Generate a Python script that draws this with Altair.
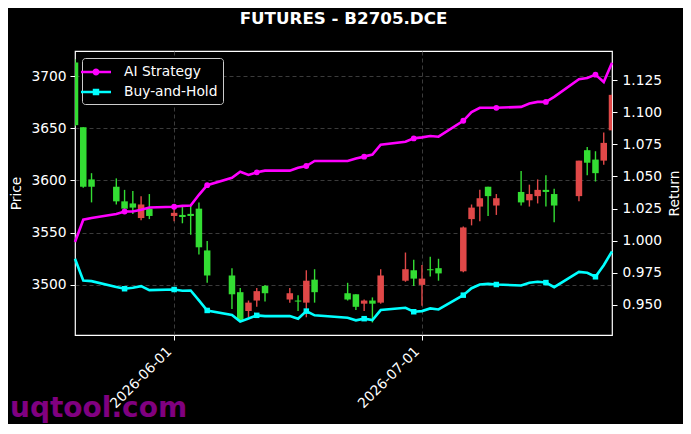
import altair as alt
import pandas as pd

# ---------------- data ----------------
dates = [
    "2026-05-20", "2026-05-21", "2026-05-22", "2026-05-25", "2026-05-26", "2026-05-27", "2026-05-28", "2026-05-29",
    "2026-06-01", "2026-06-02", "2026-06-03", "2026-06-04", "2026-06-05",
    "2026-06-08", "2026-06-09", "2026-06-10", "2026-06-11", "2026-06-12",
    "2026-06-15", "2026-06-16", "2026-06-17", "2026-06-18",
    "2026-06-22", "2026-06-23", "2026-06-24", "2026-06-25", "2026-06-26",
    "2026-06-29", "2026-06-30", "2026-07-01", "2026-07-02", "2026-07-03",
    "2026-07-06", "2026-07-07", "2026-07-08", "2026-07-09", "2026-07-10",
    "2026-07-13", "2026-07-14", "2026-07-15", "2026-07-16", "2026-07-17",
    "2026-07-20", "2026-07-21", "2026-07-22", "2026-07-23", "2026-07-24",
]
opens = [3713, 3651, 3601, 3594, 3580, 3578, 3564, 3573,
         3566, 3567, 3568, 3573, 3533,
         3509, 3493, 3475, 3485, 3499,
         3486, 3485, 3483, 3505,
         3492, 3491, 3482, 3485, 3483,
         3504, 3514, 3500, 3515, 3516,
         3513, 3563, 3575, 3594, 3576,
         3589, 3581, 3585, 3591, 3587,
         3585, 3629, 3620, 3619, 3648]
highs = [3716, 3651, 3607, 3602, 3591, 3590, 3585, 3587,
         3574, 3575, 3577, 3579, 3542,
         3516, 3497, 3485, 3497, 3500,
         3497, 3490, 3514, 3515,
         3502, 3491, 3486, 3488, 3515,
         3531, 3524, 3519, 3527, 3525,
         3556, 3577, 3591, 3594, 3587,
         3609, 3596, 3601, 3605, 3592,
         3619, 3632, 3628, 3646, 3682]
lows = [3652, 3593, 3579, 3577, 3570, 3568, 3562, 3563,
        3561, 3559, 3548, 3529, 3502,
        3477, 3466, 3469, 3479, 3484,
        3483, 3475, 3469, 3483,
        3485, 3476, 3475, 3464, 3482,
        3503, 3499, 3480, 3508, 3504,
        3512, 3557, 3561, 3566, 3567,
        3576, 3575, 3578, 3575, 3560,
        3580, 3605, 3599, 3615, 3648]
closes = [3653, 3594, 3594, 3580, 3573, 3574, 3577, 3566,
          3569, 3565, 3566, 3536, 3509,
          3491, 3466, 3483, 3494, 3492,
          3492, 3484, 3504, 3493,
          3486, 3479, 3485, 3482, 3509,
          3515, 3506, 3506, 3514, 3511,
          3555, 3574, 3583, 3585, 3583,
          3579, 3587, 3591, 3589, 3576,
          3619, 3617, 3607, 3636, 3682]
ai_strategy = [0.999, 1.0163, 1.0176, 1.0207, 1.0227, 1.0227, 1.0240, 1.0258,
               1.0264, 1.0271, 1.0274, 1.0357, 1.0432,
               1.0490, 1.0537, 1.0512, 1.0532, 1.0545,
               1.0545, 1.0568, 1.0581, 1.0620,
               1.0620, 1.0640, 1.0654, 1.0670, 1.0747,
               1.0770, 1.0796, 1.0804, 1.0814, 1.0809,
               1.0933, 1.1000, 1.1034, 1.1034, 1.1034,
               1.1041, 1.1067, 1.1080, 1.1080, 1.1119,
               1.1256, 1.1266, 1.1292, 1.1235, 1.1385]
buy_hold = [0.9860, 0.9690, 0.9685, 0.9640, 0.9626, 0.9633, 0.9646, 0.9615,
            0.9620, 0.9610, 0.9612, 0.9535, 0.9457,
            0.9421, 0.9370, 0.9395, 0.9419, 0.9413,
            0.9413, 0.9393, 0.9452, 0.9419,
            0.9400, 0.9380, 0.9393, 0.9382, 0.9460,
            0.9478, 0.9447, 0.9452, 0.9473, 0.9465,
            0.9576, 0.9630, 0.9659, 0.9664, 0.9659,
            0.9651, 0.9672, 0.9680, 0.9674, 0.9638,
            0.9757, 0.9750, 0.9719, 0.9809, 0.9917]

series_names = ["AI Strategy", "Buy-and-Hold"]
series_colors = ["#ff00ff", "#00ffff"]
price_ticks = [3500, 3550, 3600, 3650, 3700]
return_ticks = [0.950, 0.975, 1.000, 1.025, 1.050, 1.075, 1.100, 1.125]
price_domain = [3452, 3724]
return_domain = [0.9266, 1.1476]
title_text = "FUTURES - B2705.DCE"
watermark_text = "uqtool.com"

UP_COLOR = "#e04848"
DOWN_COLOR = "#33dd33"
FONT = "DejaVu Sans"
FS = 13.8
MARK_EVERY = 4

# ---------------- tables ----------------
candles = pd.DataFrame({"date": dates, "open": opens, "high": highs, "low": lows, "close": closes})
candles["col"] = [UP_COLOR if c >= o else DOWN_COLOR for o, c in zip(opens, closes)]

n = len(dates)
rets = pd.DataFrame({
    "date": dates * 2,
    "value": ai_strategy + buy_hold,
    "series": [series_names[0]] * n + [series_names[1]] * n,
    "hex": [series_colors[0]] * n + [series_colors[1]] * n,
    "idx": list(range(n)) * 2,
})
legend_df = pd.DataFrame({"series": series_names})
wm_df = pd.DataFrame({"t": [watermark_text]})

# ---------------- shared encodings ----------------
x_enc = alt.X(
    "date:T",
    scale=alt.Scale(
        type="utc",
        domain=[alt.DateTime(year=2026, month=5, date=20, utc=True),
                alt.DateTime(year=2026, month=7, date=24, utc=True)],
        nice=False, padding=0,
    ),
    axis=alt.Axis(
        title=None,
        values=[alt.DateTime(year=2026, month=6, date=1, utc=True),
                alt.DateTime(year=2026, month=7, date=1, utc=True)],
        labelExpr="utcFormat(datum.value, '%Y-%m-%d')",
        labelAngle=315, labelAlign="right", labelBaseline="middle",
        labelPadding=9, labelOffset=-5, tickSize=5, grid=True,
    ),
)
price_scale = alt.Scale(domain=price_domain, nice=False, zero=False)
price_axis = alt.Axis(title="Price", orient="left", values=price_ticks, grid=True,
                      tickSize=5, labelPadding=4, titlePadding=7, format="d")
ret_scale = alt.Scale(domain=return_domain, nice=False, zero=False)
ret_axis = alt.Axis(title="Return", orient="right", values=return_ticks, grid=False,
                    tickSize=5, labelPadding=5, titlePadding=6, format=".3f",
                    titleAngle=270, titleBaseline="top")

# ---------------- candles ----------------
wicks = alt.Chart(candles).mark_rule(strokeWidth=1.4, clip=True).encode(
    x=x_enc,
    y=alt.Y("low:Q", scale=price_scale, axis=price_axis),
    y2="high:Q",
    color=alt.Color("col:N", scale=None),
)
bodies = alt.Chart(candles).mark_bar(size=6.5, clip=True).encode(
    x=x_enc,
    y=alt.Y("open:Q", scale=price_scale, axis=price_axis),
    y2="close:Q",
    color=alt.Color("col:N", scale=None),
)
candle_layer = alt.layer(wicks, bodies)

# ---------------- return lines ----------------
lines = alt.Chart(rets).mark_line(strokeWidth=2.6).encode(
    x=x_enc,
    y=alt.Y("value:Q", scale=ret_scale, axis=ret_axis),
    color=alt.Color("hex:N", scale=None),
    detail="series:N",
)
ai_marks = alt.Chart(rets).transform_filter(
    f"datum.idx > 0 && datum.idx % {MARK_EVERY} == 0 && datum.series == '{series_names[0]}'"
).mark_point(shape="circle", filled=True, size=34, color=series_colors[0], opacity=1).encode(
    x=x_enc, y=alt.Y("value:Q", scale=ret_scale, axis=ret_axis),
)
bh_marks = alt.Chart(rets).transform_filter(
    f"datum.idx > 0 && datum.idx % {MARK_EVERY} == 0 && datum.series == '{series_names[1]}'"
).mark_point(shape="square", filled=True, size=30, color=series_colors[1], opacity=1).encode(
    x=x_enc, y=alt.Y("value:Q", scale=ret_scale, axis=ret_axis),
)

circle_line = "M-2,0L2,0M0.3,0A0.3,0.3,0,1,1,-0.3,0A0.3,0.3,0,1,1,0.3,0Z"
square_line = "M-2,0L2,0M-0.27,-0.27L0.27,-0.27L0.27,0.27L-0.27,0.27Z"

legend_pts = alt.Chart(legend_df).mark_point(filled=True, opacity=0).encode(
    color=alt.Color(
        "series:N",
        scale=alt.Scale(domain=series_names, range=series_colors),
        legend=alt.Legend(
            title=None, orient="top-left", offset=7,
            fillColor="black", strokeColor="#cccccc", cornerRadius=3, padding=5,
            labelColor="white", labelFont=FONT, labelFontSize=FS,
            symbolSize=225, symbolStrokeWidth=2.4, labelOffset=19, rowPadding=3,
        ),
    ),
    stroke=alt.Stroke("series:N", scale=alt.Scale(domain=series_names, range=series_colors)),
    shape=alt.Shape("series:N", scale=alt.Scale(domain=series_names, range=[circle_line, square_line])),
)
line_layer = alt.layer(lines, ai_marks, bh_marks, legend_pts)

# ---------------- watermark ----------------
watermark = alt.Chart(wm_df).mark_text(
    align="left", baseline="alphabetic", font=FONT, fontSize=28, fontWeight="bold",
    color="#800080",
).encode(x=alt.value(-65), y=alt.value(366), text="t:N")

chart = alt.layer(candle_layer, line_layer, watermark).resolve_scale(
    y="independent"
).properties(
    width=537, height=284,
    title=alt.TitleParams(title_text, color="white", font=FONT, fontSize=16.7,
                          fontWeight="bold", anchor="middle", frame="group",
                          baseline="alphabetic", offset=10),
    autosize=alt.AutoSizeParams(type="none"),
    padding={"left": 67, "top": 43, "right": 71, "bottom": 89},
    background="black",
).configure_view(
    stroke="white", strokeWidth=1.2,
).configure_axis(
    labelColor="white", tickColor="white", titleColor="white", domain=False,
    gridColor="#4a4a4a", gridDash=[4, 3], gridWidth=0.8,
    labelFont=FONT, labelFontSize=FS, titleFont=FONT, titleFontSize=FS,
    titleFontWeight="normal", tickWidth=1,
)

chart.save("out.html", embed_options={"renderer": "svg", "actions": False})
